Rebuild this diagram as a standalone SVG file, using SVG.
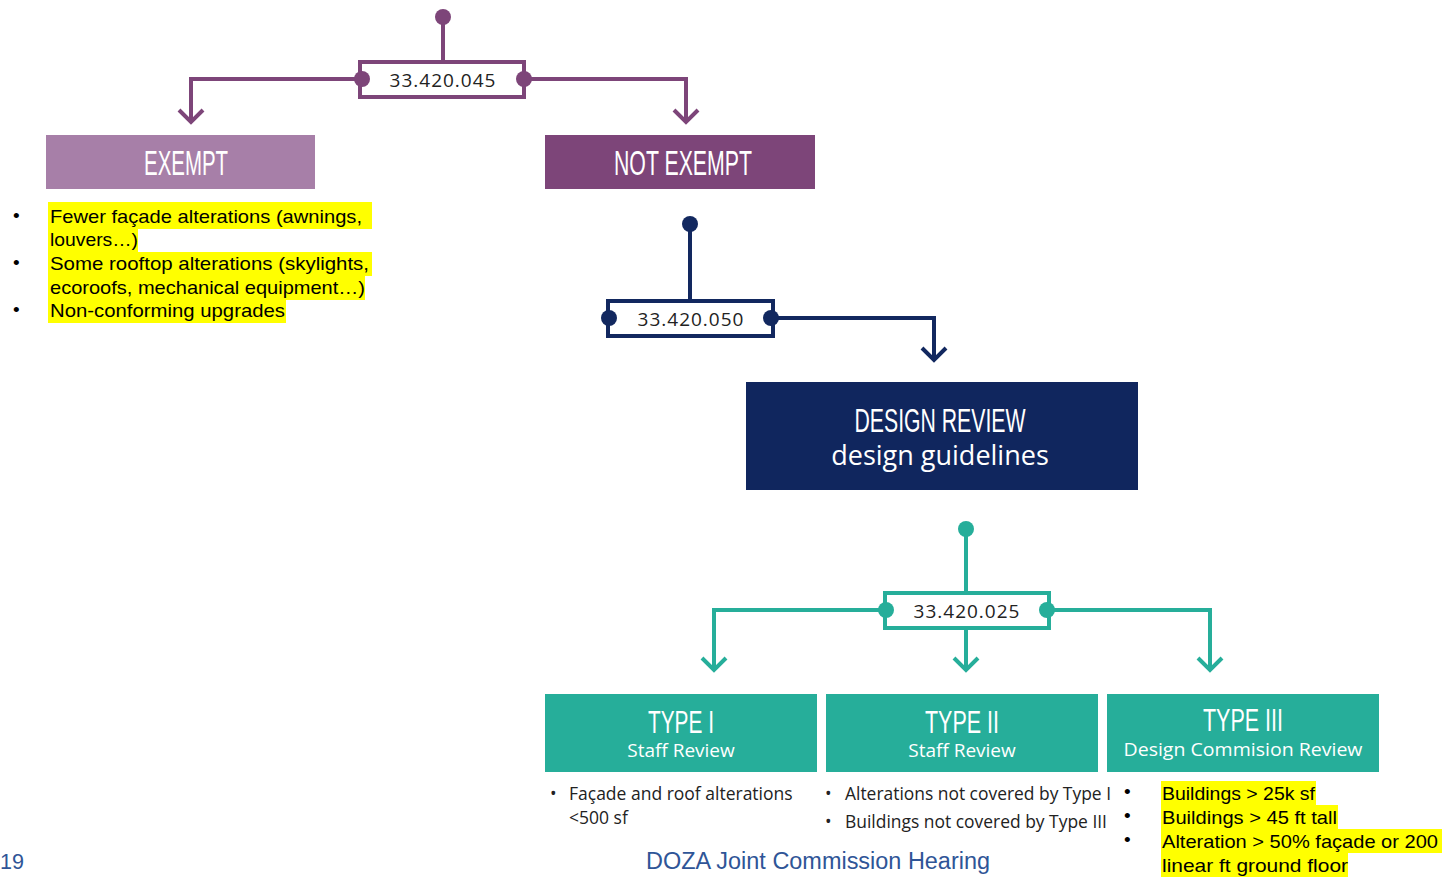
<svg xmlns="http://www.w3.org/2000/svg" width="1445" height="877" viewBox="0 0 1445 877">
<style>
.p{stroke:#7D4579;fill:none;stroke-width:4}
.n{stroke:#12285F;fill:none;stroke-width:4}
.t{stroke:#26AE9A;fill:none;stroke-width:4}
.code{font-family:"Open Sans","DejaVu Sans",sans-serif;font-size:19px;fill:#222;text-anchor:middle;letter-spacing:1px}
.head{font-family:"Liberation Sans",sans-serif;fill:#fff;text-anchor:middle}
.sub{font-family:"Open Sans","Noto Sans",sans-serif;fill:#fff;text-anchor:middle}
.body{font-family:"Liberation Sans",Arial,sans-serif;font-size:19px;fill:#000}
.small{font-family:"Open Sans","Noto Sans",sans-serif;font-size:17.5px;fill:#222}
.hl{fill:#FFFF00}
.foot{font-family:"Liberation Sans",Arial,sans-serif;fill:#2F5597}
</style>
<rect width="1445" height="877" fill="#fff"/>
<g id="connectors">
  <path class="p" d="M443 17V62M362 79H191V122M179 110L191 122L203 110M524 79H686V122M674 110L686 122L698 110"/>
  <path class="n" d="M690 224V301M771 318H934V360M922 348L934 360L946 348"/>
  <path class="t" d="M966 529V593M886 610H714V670M702 658L714 670L726 658M966 628V670M954 658L966 670L978 658M1047 610H1210V670M1198 658L1210 670L1222 658"/>
</g>
<g id="code-045">
  <circle cx="443" cy="17" r="8" fill="#7D4579"/>
  <rect x="360" y="62" width="164" height="35" fill="#fff" class="p"/>
  <circle cx="362" cy="79" r="8" fill="#7D4579"/>
  <circle cx="524" cy="79" r="8" fill="#7D4579"/>
  <text class="code" x="443" y="87">33.420.045</text>
</g>
<g id="exempt">
  <rect x="46" y="135" width="269" height="54" fill="#A77FA8"/>
  <text class="head" x="186" y="175" font-size="35" textLength="84" lengthAdjust="spacingAndGlyphs">EXEMPT</text>
</g>
<g id="not-exempt">
  <rect x="545" y="135" width="270" height="54" fill="#7D4579"/>
  <text class="head" x="683" y="175" font-size="35" textLength="138" lengthAdjust="spacingAndGlyphs">NOT EXEMPT</text>
</g>
<g id="exempt-list">
  <rect class="hl" x="48" y="202" width="324" height="27"/>
  <rect class="hl" x="48" y="229" width="90" height="23"/>
  <rect class="hl" x="48" y="252" width="324" height="24"/>
  <rect class="hl" x="48" y="276" width="317" height="24"/>
  <rect class="hl" x="48" y="300" width="238" height="23"/>
  <text class="body"><tspan x="13" y="222">•</tspan><tspan x="13" y="269">•</tspan><tspan x="13" y="316">•</tspan></text>
  <text class="body">
    <tspan x="50" y="223" textLength="312" lengthAdjust="spacingAndGlyphs">Fewer façade alterations (awnings,</tspan>
    <tspan x="50" y="246" textLength="88" lengthAdjust="spacingAndGlyphs">louvers…)</tspan>
    <tspan x="50" y="270" textLength="319" lengthAdjust="spacingAndGlyphs">Some rooftop alterations (skylights,</tspan>
    <tspan x="50" y="294" textLength="315" lengthAdjust="spacingAndGlyphs">ecoroofs, mechanical equipment…)</tspan>
    <tspan x="50" y="317" textLength="235" lengthAdjust="spacingAndGlyphs">Non-conforming upgrades</tspan>
  </text>
</g>
<g id="code-050">
  <circle cx="690" cy="224" r="8" fill="#12285F"/>
  <rect x="608" y="301" width="165" height="35" fill="#fff" class="n"/>
  <circle cx="609" cy="318" r="8" fill="#12285F"/>
  <circle cx="771" cy="318" r="8" fill="#12285F"/>
  <text class="code" x="691" y="326">33.420.050</text>
</g>
<g id="design-review">
  <rect x="746" y="382" width="392" height="108" fill="#10265E"/>
  <text class="head" x="940" y="432" font-size="33" textLength="171" lengthAdjust="spacingAndGlyphs">DESIGN REVIEW</text>
  <text class="sub" x="940" y="465" font-size="27">design guidelines</text>
</g>
<g id="code-025">
  <circle cx="966" cy="529" r="8" fill="#26AE9A"/>
  <rect x="885" y="593" width="164" height="35" fill="#fff" class="t"/>
  <circle cx="886" cy="610" r="8" fill="#26AE9A"/>
  <circle cx="1047" cy="610" r="8" fill="#26AE9A"/>
  <text class="code" x="967" y="618">33.420.025</text>
</g>
<g id="type-1">
  <rect x="545" y="694" width="272" height="78" fill="#26AE9A"/>
  <text class="head" x="681" y="733" font-size="31" textLength="66" lengthAdjust="spacingAndGlyphs">TYPE I</text>
  <text class="sub" x="681" y="757" font-size="19">Staff Review</text>
  <text class="small"><tspan x="550" y="800">•</tspan><tspan x="569" y="800">Façade and roof alterations</tspan><tspan x="569" y="824">&lt;500 sf</tspan></text>
</g>
<g id="type-2">
  <rect x="826" y="694" width="272" height="78" fill="#26AE9A"/>
  <text class="head" x="962" y="733" font-size="31" textLength="74" lengthAdjust="spacingAndGlyphs">TYPE II</text>
  <text class="sub" x="962" y="757" font-size="19">Staff Review</text>
  <text class="small"><tspan x="825" y="800">•</tspan><tspan x="845" y="800" textLength="266" lengthAdjust="spacingAndGlyphs">Alterations not covered by Type I</tspan><tspan x="825" y="828">•</tspan><tspan x="845" y="828" textLength="262" lengthAdjust="spacingAndGlyphs">Buildings not covered by Type III</tspan></text>
</g>
<g id="type-3">
  <rect x="1107" y="694" width="272" height="78" fill="#26AE9A"/>
  <text class="head" x="1243" y="731" font-size="31" textLength="80" lengthAdjust="spacingAndGlyphs">TYPE III</text>
  <text class="sub" x="1243" y="756" font-size="19" textLength="239" lengthAdjust="spacingAndGlyphs">Design Commision Review</text>
  <rect class="hl" x="1161" y="781" width="155" height="24"/>
  <rect class="hl" x="1161" y="805" width="177" height="24"/>
  <rect class="hl" x="1161" y="829" width="281" height="24"/>
  <rect class="hl" x="1161" y="853" width="187" height="24"/>
  <text class="body"><tspan x="1124" y="798">•</tspan><tspan x="1124" y="822">•</tspan><tspan x="1124" y="846">•</tspan></text>
  <text class="body">
    <tspan x="1162" y="800" textLength="153" lengthAdjust="spacingAndGlyphs">Buildings &gt; 25k sf</tspan>
    <tspan x="1162" y="824" textLength="175" lengthAdjust="spacingAndGlyphs">Buildings &gt; 45 ft tall</tspan>
    <tspan x="1162" y="848" textLength="276" lengthAdjust="spacingAndGlyphs">Alteration &gt; 50% façade or 200</tspan>
    <tspan x="1162" y="872" textLength="186" lengthAdjust="spacingAndGlyphs">linear ft ground floor</tspan>
  </text>
</g>
<g id="footer">
  <text class="foot" x="0" y="869" font-size="22" textLength="24" lengthAdjust="spacingAndGlyphs">19</text>
  <text class="foot" x="646" y="869" font-size="23" textLength="344" lengthAdjust="spacingAndGlyphs">DOZA Joint Commission Hearing</text>
</g>
</svg>
